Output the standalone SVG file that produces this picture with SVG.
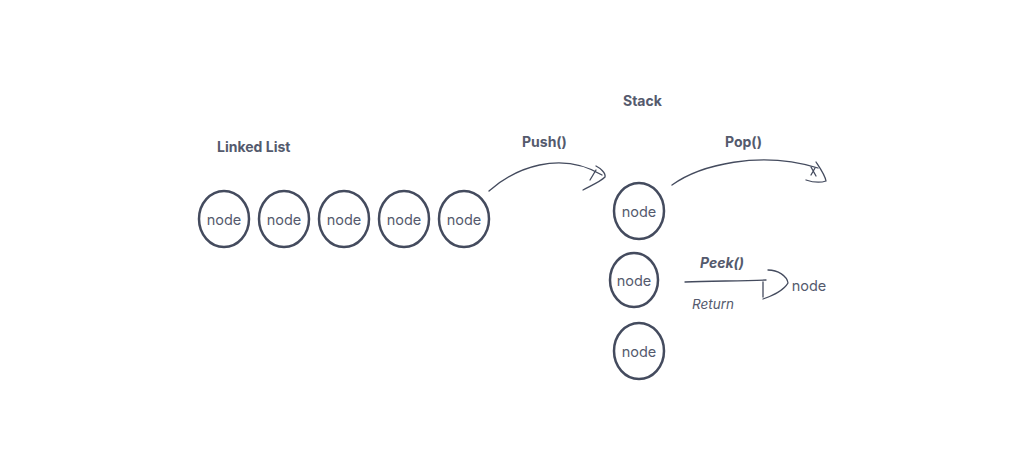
<svg xmlns="http://www.w3.org/2000/svg" width="1026" height="469" viewBox="0 0 1026 469">
<style>
.n{fill:none;stroke:#444b5e;stroke-width:2.5}
.t{font-family:Inter,"Noto Sans","Liberation Sans",sans-serif;font-size:14.5px;fill:#545a6d;text-anchor:middle;dominant-baseline:central}
.h{font-family:Inter,"Noto Sans","Liberation Sans",sans-serif;font-size:14px;font-weight:bold;fill:#545a6d}
.c{fill:none;stroke:#444b5e;stroke-width:1.3;stroke-linecap:round;stroke-linejoin:round}
</style>
<rect width="1026" height="469" fill="#fff"/>
<text class="h" x="217" y="152">Linked List</text>
<text class="h" x="623" y="106">Stack</text>
<text class="h" x="522" y="147">Push()</text>
<text class="h" x="725" y="147">Pop()</text>
<text class="h" x="700" y="268" font-style="italic">Peek()</text>
<text class="t" x="713" y="304" font-style="italic" style="font-size:13.5px">Return</text>
<g id="ll1"><ellipse class="n" cx="224" cy="219" rx="25" ry="28"/><text class="t" x="224" y="219">node</text></g>
<g id="ll2"><ellipse class="n" cx="284" cy="219" rx="25" ry="28"/><text class="t" x="284" y="219">node</text></g>
<g id="ll3"><ellipse class="n" cx="344" cy="219" rx="25" ry="28"/><text class="t" x="344" y="219">node</text></g>
<g id="ll4"><ellipse class="n" cx="404" cy="219" rx="25" ry="28"/><text class="t" x="404" y="219">node</text></g>
<g id="ll5"><ellipse class="n" cx="464" cy="219" rx="25" ry="28"/><text class="t" x="464" y="219">node</text></g>
<g id="s1"><ellipse class="n" cx="639" cy="211" rx="25" ry="28"/><text class="t" x="639" y="211">node</text></g>
<g id="s2"><ellipse class="n" cx="634" cy="280" rx="24" ry="27"/><text class="t" x="634" y="280">node</text></g>
<g id="s3"><ellipse class="n" cx="639" cy="351" rx="25" ry="28"/><text class="t" x="639" y="351">node</text></g>
<g id="peeked"><text class="t" x="809" y="285">node</text></g>
<g id="connectors">
<path class="c" d="M489 191 C 515 168, 560 150, 602 175"/>
<path class="c" d="M596 166 C 600 168, 606 173, 605 177 C 600 182, 590 186, 583 190"/>
<path class="c" d="M596 170 L 590 180"/>
<path class="c" d="M672 185 C 700 165, 760 150, 818 168"/>
<path class="c" d="M816 162 C 820 168, 825 175, 826 181 C 820 183, 812 182, 806 180"/>
<path class="c" d="M811 167 L 816 176 M 815 168 L 811 175"/>
<path class="c" d="M685 282 C 710 281, 740 281, 766 280"/>
<path class="c" d="M768 270 C 778 270, 787 276, 788 283 C 784 290, 772 296, 763 299"/>
<path class="c" d="M763 282 L 763 297"/>
</g>
</svg>
